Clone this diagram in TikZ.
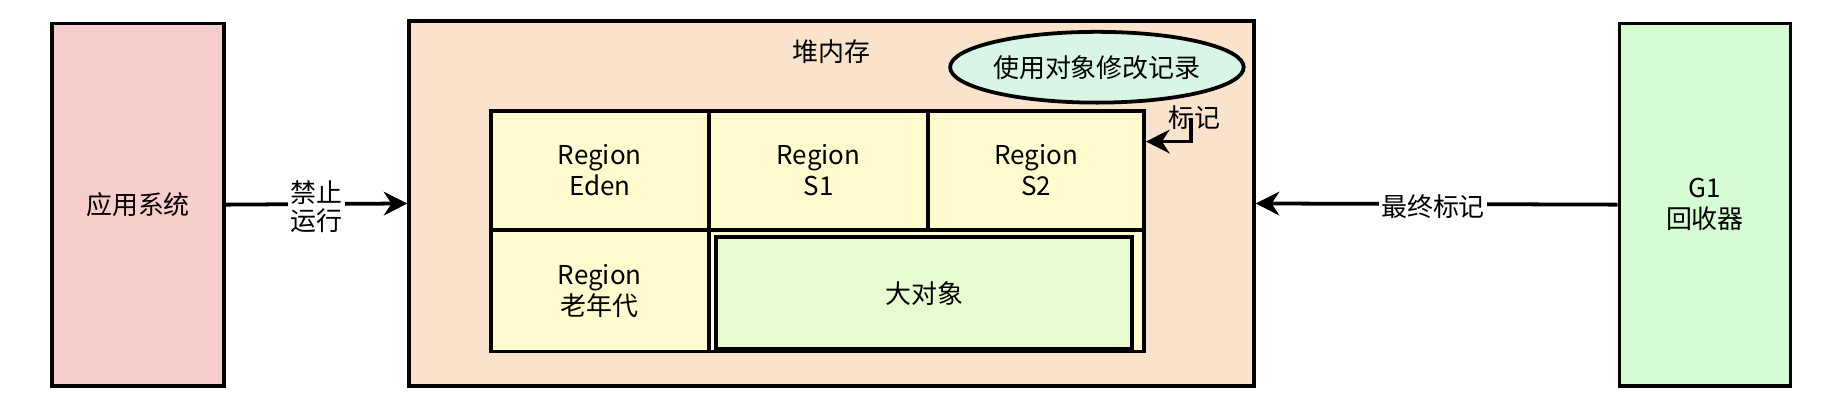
\documentclass[tikz,border=0pt]{standalone}
\usepackage{fontspec}
\setmainfont{Noto Sans CJK SC}
\usetikzlibrary{arrows.meta,shapes.geometric}
\definecolor{pinkf}{HTML}{F8CECC}
\definecolor{heapf}{HTML}{FAE3CC}
\definecolor{regf}{HTML}{FFFBCF}
\definecolor{bigf}{HTML}{E8FACF}
\definecolor{mintf}{HTML}{D8F5E6}
\definecolor{greenf}{HTML}{D5FCD2}
\tikzset{
  box/.style={draw=black,line width=1.6pt,align=center,inner sep=0pt},
  arr/.style={-{Stealth[length=10pt,width=10pt]},line width=1.6pt},
  lbl/.style={fill=white,align=center,inner sep=1pt,font=\fontsize{11}{12}\selectfont}
}
\begin{document}
\begin{tikzpicture}[x=0.5pt,y=-0.5pt,font=\fontsize{11}{13}\selectfont]
\useasboundingbox (0,0) rectangle (1560,348);

\node[box,fill=pinkf,minimum width=73pt,minimum height=153.5pt](app) at (117,173.5) {应用系统};
\node[box,fill=heapf,minimum width=358pt,minimum height=154.5pt](heap) at (705,172.5) {};
\node(heapl) at (705,44) {堆内存};
\node[box,fill=greenf,minimum width=72.5pt,minimum height=153.5pt](g1) at (1445.5,173.5) {G1\\回收器};

\node[box,fill=mintf,ellipse,minimum width=111pt,minimum height=30pt](rec) at (930,57) {使用对象修改记录};

% regions
\node[box,fill=regf,minimum width=92.5pt,minimum height=50.5pt](eden) at (508.5,144.5) {Region\\Eden};
\node[box,fill=regf,minimum width=93pt,minimum height=50.5pt](s1) at (694,144.5) {Region\\S1};
\node[box,fill=regf,minimum width=91.5pt,minimum height=50.5pt](s2) at (878.5,144.5) {Region\\S2};
\node[box,fill=regf,minimum width=92.5pt,minimum height=51.5pt](old) at (508.5,246.5) {Region\\老年代};
\node[box,fill=regf,minimum width=184.5pt,minimum height=51.5pt](bigo) at (785.5,246.5) {};
\node[box,fill=bigf,minimum width=176.5pt,minimum height=47.5pt](big) at (783.5,248.5) {大对象};

\coordinate (m1) at (1010,100);
\coordinate (m2) at (1010,120);
\draw[arr] (m1) -- (m2) -- (s2.east |- m2);
\node[lbl,fill=none](mk) at (1013,100) {标记};

\draw[arr] (app.east) -- (heap.west) node[lbl,midway,yshift=-1pt] {禁止\\运行};
\draw[arr] (g1.west) -- (heap.east) node[lbl,pos=0.51,yshift=-1pt] {最终标记};
\end{tikzpicture}
\end{document}
